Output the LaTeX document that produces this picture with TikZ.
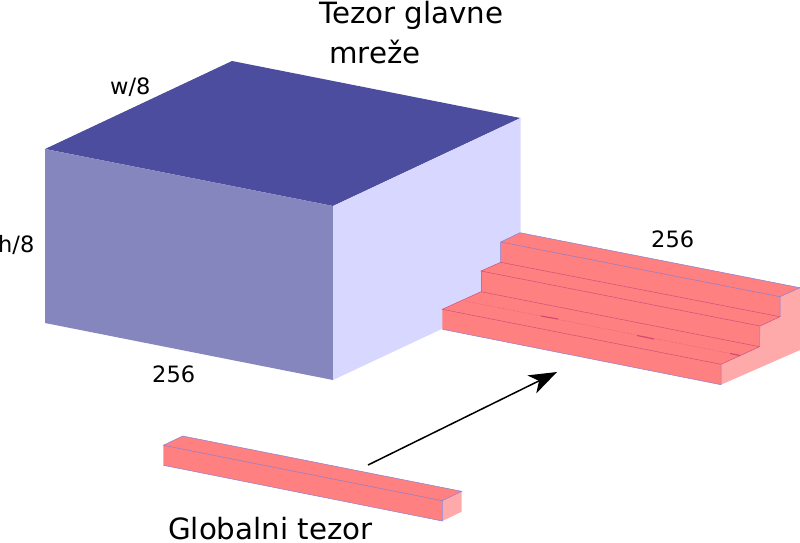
\documentclass[tikz,border=0pt]{standalone}
\usepackage{fontspec}
\setmainfont{DejaVu Sans}
\usetikzlibrary{arrows.meta}
\definecolor{boxtop}{HTML}{4D4D9F}
\definecolor{boxleft}{HTML}{8686BF}
\definecolor{boxright}{HTML}{D7D7FF}
\definecolor{redface}{HTML}{FF8080}
\definecolor{redside}{HTML}{FFAAAA}
\definecolor{redline}{HTML}{8A7FD0}
\definecolor{stepline}{HTML}{D0507A}
\tikzset{
  lbl/.style={inner sep=0pt,anchor=base west,text=black},
  biglbl/.style={lbl,font=\fontsize{29.3}{29.3}\selectfont},
  smalllbl/.style={lbl,font=\fontsize{22.5}{22.5}\selectfont},
  edge1/.style={draw=redline,line width=0.5pt},
  edge2/.style={draw=stepline,line width=0.5pt},
  flow/.style={draw=black,line width=1.5pt,-{Stealth[length=28pt,width=20pt,inset=8pt]}}
}
\begin{document}
\begin{tikzpicture}[x=1pt,y=-1pt]
\useasboundingbox (0,0) rectangle (800,542);
% big box
\fill[boxtop] (232,61) -- (520.5,118) -- (333,206) -- (45,149) -- cycle;
\fill[boxleft] (45,149) -- (333,206) -- (333,380) -- (45,323) -- cycle;
\fill[boxright] (333,206) -- (520.5,118) -- (520.5,292) -- (333,380) -- cycle;
% stairs
\fill[redside] (800,287.7) -- (800,350) -- (721,384.7) -- (721,364.3) -- (759.5,346.7) -- (760,326) -- (780,316.7) -- (780,296.7) -- cycle;
\fill[redface] (520,232.7) -- (800,287.7) -- (780,296.7) -- (780,316.7) -- (760,326) -- (759.5,346.7) -- (721,364.3) -- (721,384.7) -- (442.3,329.3) -- (442.3,309.3) -- (481,291.7) -- (481,271) -- (500.7,262.3) -- (500.7,242) -- cycle;
\draw[edge1] (500.7,242) -- (520,232.7) -- (800,287.7);
\draw[edge1] (500.7,262.3) -- (500.7,242) -- (780,296.7) -- (780,316.7);
\draw[edge1] (800,287.7) -- (780,296.7);
\draw[edge2] (500.7,262.3) -- (780,316.7) -- (760,326);
\draw[edge2] (500.7,262.3) -- (481,271) -- (760,326);
\draw[edge1] (481,291.7) -- (481,271);
\draw[edge1] (760,326) -- (759.5,346.7);
\draw[edge2] (481,291.7) -- (759.5,346.7) -- (721,364.3);
\draw[edge2] (481,291.7) -- (442.3,309.3) -- (721,364.3);
\draw[edge1] (721,364.3) -- (721,384.7) -- (442.3,329.3);
\draw[draw=stepline,line width=0.4pt,densely dotted] (465,301) -- (738,355);
\draw[draw=stepline!90!red,line width=1.1pt] (541,316) -- (558,319);
\draw[draw=stepline!90!red,line width=1.1pt] (637,335.5) -- (654,339);
\draw[draw=stepline!90!red,line width=1.1pt] (730,353.5) -- (740,355.5);
% bar
\fill[redside] (461.7,491.3) -- (461.7,511.7) -- (442.3,521) -- (442.3,500.7) -- cycle;
\fill[redface] (182.7,436) -- (461.7,491.3) -- (442.3,500.7) -- (442.3,521) -- (163.3,465.3) -- (163.3,445.3) -- cycle;
\draw[edge1] (163.3,445.3) -- (182.7,436) -- (461.7,491.3) -- (442.3,500.7) -- (163.3,445.3);
\draw[edge1] (163.3,465.3) -- (442.3,521) -- (442.3,500.7);
% arrow
\coordinate (flowstart) at (368,465);
\coordinate (flowend) at (557,372);
\draw[flow] (flowstart) -- (flowend);
% labels
\node[biglbl] (titleA) at (319,23) {Tezor glavne};
\node[biglbl] (titleB) at (329,63) {mreže};
\node[smalllbl] (w) at (110,94) {w/8};
\node[smalllbl] (h) at (-2,252) {h/8};
\node[smalllbl] (da) at (152,382) {256};
\node[smalllbl] (db) at (651,247) {256};
\node[biglbl] (glob) at (168,539.5) {Globalni tezor};
\end{tikzpicture}
\end{document}
